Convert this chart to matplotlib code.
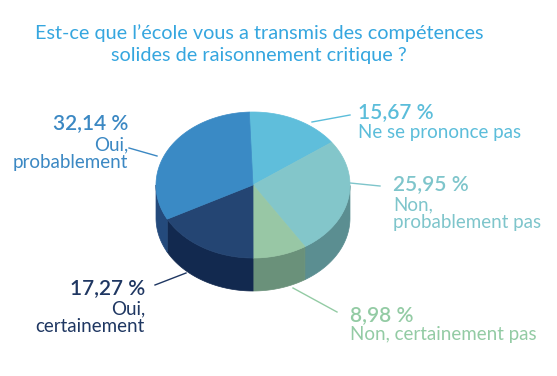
import matplotlib
matplotlib.use("Agg")
import matplotlib.pyplot as plt
import numpy as np

plt.rcParams['font.family'] = ['Lato', 'DejaVu Sans']

# données (sens horaire depuis le haut)
categories = ["Ne se prononce pas", "Non,\nprobablement pas", "Non, certainement pas",
              "Oui,\ncertainement", "Oui,\nprobablement"]
valeurs = [15.67, 25.95, 8.98, 17.27, 32.14]
etiquettes = ["15,67 %", "25,95 %", "8,98 %", "17,27 %", "32,14 %"]

couleurs_dessus = ["#5FBEDB", "#83C6CA", "#98C7A5", "#244573", "#3A8AC5"]
couleurs_cote = ["#3F8FA8", "#5B8E91", "#6A917A", "#12294F", "#244A7C"]
couleurs_texte = ["#5BBDDA", "#7EC5CB", "#93CBA4", "#1F3762", "#3B88C3"]

titre = "Est-ce que l’école vous a transmis des compétences\nsolides de raisonnement critique ?"

# géométrie du camembert (en pixels)
cx, cy = 253, 185
a, b = 97, 73
epaisseur = 33
depart = 92.2

fig = plt.figure(figsize=(5.57, 3.76), dpi=100)
ax = fig.add_axes([0, 0, 1, 1])
ax.set_xlim(0, 557)
ax.set_ylim(376, 0)
ax.axis('off')

angles = depart - np.cumsum([0] + valeurs) * 3.6
# faces latérales (partie avant seulement)
for i in range(len(valeurs)):
    t = np.radians(np.linspace(angles[i + 1], angles[i], 200))
    t = t[np.sin(t) <= 0.001]
    if len(t) < 2:
        continue
    xs = cx + a * np.cos(t)
    ys = cy - b * np.sin(t)
    px = np.concatenate([xs, xs[::-1]])
    py = np.concatenate([ys, ys[::-1] + epaisseur])
    ax.fill(px, py, color=couleurs_cote[i], lw=0.5, ec=couleurs_cote[i])

# faces du dessus
for i in range(len(valeurs)):
    t = np.radians(np.linspace(angles[i + 1], angles[i], 200))
    px = np.concatenate([[cx], cx + a * np.cos(t)])
    py = np.concatenate([[cy], cy - b * np.sin(t)])
    ax.fill(px, py, color=couleurs_dessus[i], lw=0.5, ec=couleurs_dessus[i])

ax.text(259, 44, titre, ha='center', va='center', fontsize=14.3, color="#35A6DF",
        linespacing=1.35)

# étiquettes : (x, y pourcentage, y libellé, alignement, trait)
positions = [
    (358, 112, 124, 'left', (312, 122, 350, 115)),
    (393, 184, 196, 'left', (350, 183, 380, 186)),
    (350, 315, 326, 'left', (293, 288, 337, 312)),
    (145, 288, 300, 'right', (186, 273, 155, 285)),
    (128, 123, 136, 'right', (157, 156, 129, 148)),
]
for i, (x, yp, yl, ha, trait) in enumerate(positions):
    c = couleurs_texte[i]
    ax.text(x, yp, etiquettes[i], ha=ha, va='center', fontsize=15,
            fontweight='semibold', color=c)
    ax.text(x, yl, categories[i], ha=ha, va='top', fontsize=13.5, color=c,
            linespacing=1.1)
    ax.plot([trait[0], trait[2]], [trait[1], trait[3]], color=c, lw=1)

fig.savefig("out.png", dpi=100)
